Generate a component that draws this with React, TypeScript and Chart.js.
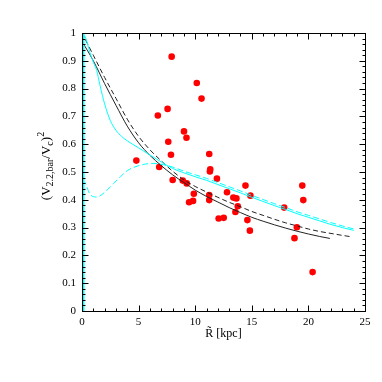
import React, { useEffect, useRef } from "react";
import { Chart, registerables } from "chart.js";

Chart.register(...registerables);

// Observed galaxies
const obsR = [7.92, 10.14, 10.56, 7.56, 6.7, 9.01, 9.23, 7.62, 7.86, 11.24, 4.8, 6.82, 11.33, 11.3, 11.92, 8.01, 8.9, 9.25, 9.88, 11.24, 11.24, 9.81, 9.46, 12.07, 14.44, 19.46, 12.81, 14.88, 13.37, 13.64, 19.55, 13.76, 17.86, 13.55, 12.52, 14.61, 14.83, 18.98, 18.77, 20.37];
const obsRatio = [0.915, 0.82, 0.764, 0.727, 0.703, 0.646, 0.623, 0.609, 0.562, 0.565, 0.541, 0.518, 0.51, 0.502, 0.476, 0.471, 0.469, 0.459, 0.422, 0.417, 0.399, 0.396, 0.391, 0.333, 0.451, 0.451, 0.427, 0.415, 0.408, 0.405, 0.399, 0.377, 0.372, 0.356, 0.335, 0.327, 0.289, 0.301, 0.262, 0.14];

// Black solid model
const solidR = [0, 1, 2, 3, 4, 5, 6, 7, 8, 9, 10, 11, 12, 13, 14, 15, 16, 17, 18, 19, 20, 21, 21.9];
const solidY = [0.97, 0.9, 0.818, 0.74, 0.665, 0.605, 0.56, 0.523, 0.49, 0.462, 0.435, 0.412, 0.392, 0.372, 0.354, 0.337, 0.323, 0.31, 0.298, 0.287, 0.277, 0.268, 0.261];

// Black dashed model
const dashR = [0, 1, 2, 3, 4, 5, 6, 7, 8, 9, 10, 11, 12, 13, 14, 15, 16, 17, 18, 19, 20, 21, 22, 23, 23.8];
const dashY = [1.0, 0.92, 0.84, 0.765, 0.69, 0.628, 0.58, 0.54, 0.503, 0.472, 0.448, 0.428, 0.409, 0.391, 0.375, 0.358, 0.344, 0.33, 0.317, 0.306, 0.295, 0.286, 0.279, 0.272, 0.267];

// Cyan solid simulation
const cyanR = [0, 0.3, 0.7, 1.0, 1.3, 1.6, 2.0, 2.5, 3.0, 3.5, 4.0, 5, 6, 7, 8, 9, 10, 11, 12, 13, 14, 15, 16, 17, 18, 19, 20, 21, 22, 23, 24];
const cyanY = [1.0, 0.985, 0.93, 0.895, 0.865, 0.81, 0.745, 0.685, 0.65, 0.628, 0.612, 0.587, 0.561, 0.536, 0.513, 0.497, 0.483, 0.47, 0.455, 0.44, 0.425, 0.409, 0.394, 0.379, 0.365, 0.35, 0.337, 0.324, 0.311, 0.3, 0.29];

// Cyan dashed simulation
const cyanDashR = [0, 0.3, 0.7, 1.3, 2.0, 2.8, 3.4, 4.0, 5.2, 6.3, 7.2, 8, 9, 10, 11, 12, 13, 14, 15, 16, 17, 18, 19, 20, 21, 22, 23, 24];
const cyanDashY = [0.47, 0.46, 0.42, 0.41, 0.427, 0.459, 0.483, 0.505, 0.525, 0.531, 0.526, 0.518, 0.503, 0.49, 0.477, 0.462, 0.447, 0.432, 0.416, 0.401, 0.386, 0.372, 0.357, 0.344, 0.331, 0.318, 0.306, 0.295];

// Cyan vertical line at R = 0
const cyanEdgeR = [0, 0];
const cyanEdgeY = [0, 1];

const xTickValues = [0, 5, 10, 15, 20, 25];
const yTickValues = [0, 0.1, 0.2, 0.3, 0.4, 0.5, 0.6, 0.7, 0.8, 0.9, 1];

const toXY = (xs: number[], ys: number[]) => xs.map((x, i) => ({ x, y: ys[i] }));

const FONT = "'Liberation Serif', 'DejaVu Serif', serif";

const framePlugin = {
  id: "frameTicks",
  afterDatasetsDraw(chart: any) {
    const { ctx, chartArea: a, scales } = chart;
    const xs = scales.x;
    const ys = scales.y;
    ctx.save();
    ctx.strokeStyle = "#000";
    ctx.lineWidth = 1;
    const L = Math.round(a.left) + 0.5;
    const T = Math.round(a.top) + 0.5;
    const R = Math.round(a.right) + 0.5;
    const B = Math.round(a.bottom) + 0.5;
    ctx.strokeRect(L, T, R - L, B - T);
    ctx.beginPath();
    for (let i = 0; i <= 25; i++) {
      const len = i % 5 === 0 ? 6 : 3;
      const px = Math.round(xs.getPixelForValue(i)) + 0.5;
      ctx.moveTo(px, B);
      ctx.lineTo(px, B - len);
      ctx.moveTo(px, T);
      ctx.lineTo(px, T + len);
    }
    for (let i = 0; i <= 50; i++) {
      const len = i % 5 === 0 ? 6 : 3;
      const py = Math.round(ys.getPixelForValue(i / 50)) + 0.5;
      ctx.moveTo(L, py);
      ctx.lineTo(L + len, py);
      ctx.moveTo(R, py);
      ctx.lineTo(R - len, py);
    }
    ctx.stroke();

    // x title
    ctx.fillStyle = "#000";
    ctx.font = `12px ${FONT}`;
    ctx.textAlign = "center";
    ctx.textBaseline = "alphabetic";
    ctx.fillText("R\u0303 [kpc]", (a.left + a.right) / 2, 337);

    // y title with sub/superscripts
    const pieces = [
      { t: "(V", f: 13, dy: 0 },
      { t: "2.2,bar", f: 10, dy: 3 },
      { t: "/V", f: 13, dy: 0 },
      { t: "c", f: 10, dy: 3 },
      { t: ")", f: 13, dy: 0 },
      { t: "2", f: 10, dy: -6 },
    ];
    let total = 0;
    const widths = pieces.map((p) => {
      ctx.font = `${p.f}px ${FONT}`;
      const w = ctx.measureText(p.t).width;
      total += w;
      return w;
    });
    ctx.translate(50, 166);
    ctx.rotate(-Math.PI / 2);
    ctx.textAlign = "left";
    let cx = -total / 2;
    pieces.forEach((p, i) => {
      ctx.font = `${p.f}px ${FONT}`;
      ctx.fillText(p.t, cx, p.dy);
      cx += widths[i];
    });
    ctx.restore();
  },
};

export default function App() {
  const ref = useRef<HTMLCanvasElement | null>(null);
  useEffect(() => {
    document.body.style.margin = "0";
    const canvas = ref.current;
    if (!canvas) return;
    const lineBase = { showLine: true, pointRadius: 0, fill: false, cubicInterpolationMode: "monotone" as const };
    const chart = new Chart(canvas, {
      type: "scatter",
      data: {
        datasets: [
          { ...lineBase, data: toXY(cyanEdgeR, cyanEdgeY), borderColor: "#00ffff", borderWidth: 5 },
          { ...lineBase, data: toXY(cyanR, cyanY), borderColor: "#00ffff", borderWidth: 1 },
          { ...lineBase, data: toXY(cyanDashR, cyanDashY), borderColor: "#00ffff", borderWidth: 1, borderDash: [6, 3] },
          { ...lineBase, data: toXY(solidR, solidY), borderColor: "#222", borderWidth: 1 },
          { ...lineBase, data: toXY(dashR, dashY), borderColor: "#222", borderWidth: 1, borderDash: [5, 3] },
          {
            data: toXY(obsR, obsRatio),
            showLine: false,
            pointRadius: 3.3,
            pointBackgroundColor: "#ff0000",
            pointBorderWidth: 0,
            borderColor: "#ff0000",
          },
        ],
      },
      options: {
        animation: false,
        responsive: true,
        maintainAspectRatio: false,
        layout: { padding: { left: 0, top: 33, right: 17, bottom: 0 } },
        plugins: { legend: { display: false }, tooltip: { enabled: false } },
        scales: {
          x: {
            type: "linear",
            min: 0,
            max: 25,
            grid: { display: false, drawTicks: false },
            border: { display: false },
            afterBuildTicks: (s: any) => {
              s.ticks = xTickValues.map((v) => ({ value: v }));
            },
            ticks: { color: "#000", font: { family: FONT, size: 11 }, padding: 5, maxRotation: 0, callback: (v: any) => String(v) },
            afterFit: (s: any) => {
              s.height = 71;
            },
          },
          y: {
            type: "linear",
            min: 0,
            max: 1,
            grid: { display: false, drawTicks: false },
            border: { display: false },
            afterBuildTicks: (s: any) => {
              s.ticks = yTickValues.map((v) => ({ value: v }));
            },
            ticks: { color: "#000", font: { family: FONT, size: 11 }, padding: 6, callback: (v: any) => String(v) },
            afterFit: (s: any) => {
              s.width = 82;
            },
          },
        },
      },
      plugins: [framePlugin],
    });
    return () => chart.destroy();
  }, []);
  return (
    <div style={{ width: 382, height: 382, position: "relative" }}>
      <canvas ref={ref} />
    </div>
  );
}
